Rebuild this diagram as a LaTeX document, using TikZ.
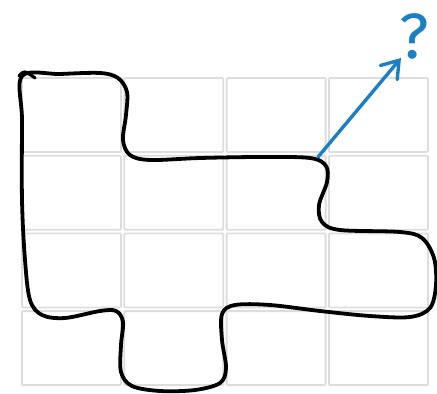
\documentclass[tikz,border=0pt]{standalone}
\usepackage{fontspec}
\newfontfamily\qfont{Fira Sans}
\usetikzlibrary{arrows.meta}
\definecolor{gridgray}{HTML}{DDDDDD}
\definecolor{qblue}{HTML}{1A7FC4}
\tikzset{
  cell/.style={draw=gridgray, line width=1.8pt, rounded corners=1pt},
  outline/.style={draw=black, line width=3.8pt, line cap=round, line join=round},
  bluearrow/.style={draw=qblue, line width=3.4pt, line cap=round,
    -{Straight Barb[length=16pt,width=22pt,line cap=round]}}
}
\begin{document}
\begin{tikzpicture}[x=1pt,y=-1pt]
\useasboundingbox (0,0) rectangle (437,394);
% grid
\foreach \i in {0,1,2,3}{
  \foreach \j in {0,1,2,3}{
    \path[cell] ({22+\i*102.3},{78+\j*77.7}) rectangle ++(99,74);
  }
}
% outline
\draw[outline] plot[smooth cycle, tension=0.55] coordinates {
 (22,76) (60,74) (100,73) (118,78) (127,92) (126,115) (123,140) (130,155)
 (150,160) (200,158) (260,157) (310,158) (326,166) (327,182) (319,205)
 (322,222) (340,230) (400,232) (422,238) (434,258) (436,285) (430,308)
 (410,317) (370,316) (320,311) (270,305) (235,305) (222,314) (222,340)
 (226,368) (220,383) (195,390) (160,391) (132,386) (121,372) (121,345)
 (123,322) (116,311) (100,311) (65,318) (42,315) (30,300) (25,260)
 (22,200) (22,120)};
\draw[outline, line width=3.2pt] plot[smooth, tension=0.6] coordinates {(19,76) (25,72) (35,78)};
% arrow and question mark
\coordinate (start) at (318,157);
\node[inner sep=0pt, anchor=base, text=qblue, font=\qfont\fontsize{64}{64}\selectfont] (q) at (414.5,58) {?};
\coordinate (tip) at (401,58);
\draw[bluearrow] (start) -- (tip);
\end{tikzpicture}
\end{document}
